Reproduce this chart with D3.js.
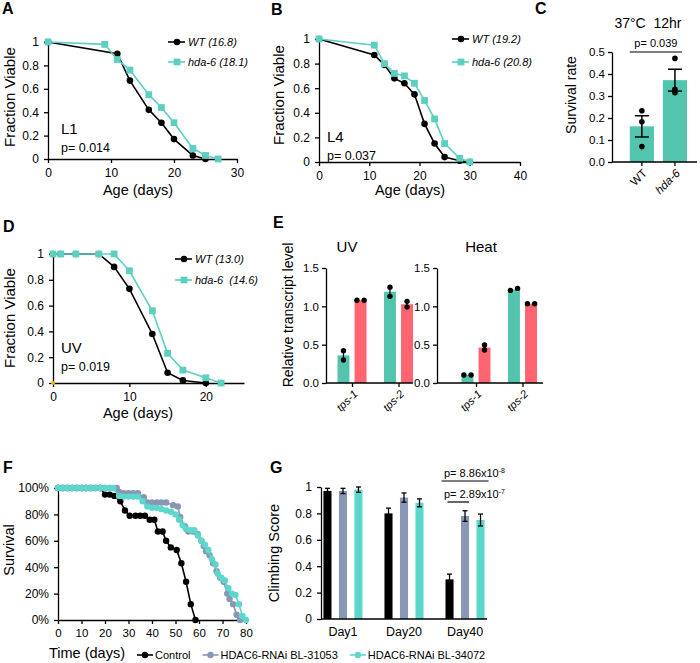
<!DOCTYPE html>
<html>
<head>
<meta charset="utf-8">
<script src="https://cdn.jsdelivr.net/npm/d3@7"></script>
<style>
  body { margin: 0; background: #fff; }
  svg { display: block; }
</style>
</head>
<body>
<svg id="fig" width="700" height="663"></svg>
<script>
const svg = d3.select("#fig");
const FONT = "'Liberation Sans', Arial, Helvetica, sans-serif";

const turq = "#5ccfc1", barTeal = "#53c5af", coral = "#fe6571", slate = "#8797b4", aqua = "#5dd7cb";

// ---- A: L1 lifespan
const aDaysWT = [0, 11, 13, 16, 18, 20, 23, 25];
const aWT = [1, 0.9, 0.67, 0.42, 0.31, 0.17, 0.03, 0];
const aDaysHda = [0, 9, 11, 13, 16, 18, 20, 23, 25, 27];
const aHda = [1, 0.98, 0.85, 0.76, 0.55, 0.44, 0.31, 0.09, 0.03, 0];

// ---- B: L4 lifespan
const bDaysWT = [0, 11, 13, 15, 17, 19, 21, 23, 25, 28, 30];
const bWT = [1, 0.87, 0.79, 0.68, 0.64, 0.55, 0.31, 0.15, 0.04, 0.01, 0];
const bDaysHda = [0, 11, 13, 15, 17, 19, 21, 23, 25, 28, 30];
const bHda = [1, 0.95, 0.8, 0.72, 0.7, 0.64, 0.5, 0.35, 0.15, 0.03, 0];

// ---- D: UV lifespan
const dDaysWT = [0, 1, 3, 6, 8, 10, 13, 15, 17, 20];
const dWT = [1, 1, 1, 1, 0.9, 0.73, 0.38, 0.08, 0.02, 0];
const dDaysHda = [0, 1, 3, 6, 8, 10, 13, 15, 17, 20, 22];
const dHda = [1, 1, 1, 1, 1, 0.87, 0.56, 0.23, 0.1, 0.04, 0];

const fracTicks = [0, 0.2, 0.4, 0.6, 0.8, 1];

// ---- C: 37°C survival
const cCats = ["WT", "hda-6"];
const cPoints = [[0.233, 0.183, 0.07], [0.471, 0.33, 0.315]];
const cTicks = [0, 0.1, 0.2, 0.3, 0.4, 0.5];

// ---- E: transcript levels (two replicates each)
const eGenes = ["tps-1", "tps-2"];
const eUVTeal = [[0.42, 0.30], [1.25, 1.13]];
const eUVRed = [[1.08, 1.08], [1.065, 0.99]];
const eHeatTeal = [[0.104, 0.104], [1.208, 1.234]];
const eHeatRed = [[0.495, 0.43], [1.034, 1.034]];
const eTicks = [0, 0.5, 1, 1.5];

// ---- F: fly survival (%)
const fCtrlDays = [0, 2, 4, 6, 8, 10, 12, 14, 16, 18, 20, 22, 24, 26.5, 28.5, 30.5, 33, 35, 37, 39, 41, 42.5, 44.5, 46, 48, 50.5, 52.5, 54.5, 56.5, 58.5];
const fCtrl = [100, 100, 100, 100, 100, 100, 100, 100, 100, 100, 95, 95, 94, 90, 83, 79, 79, 79, 79, 76, 76, 67, 67, 60, 55, 53, 43, 29, 12, 0];
const f31053Days = [0, 2, 4, 6, 8, 10, 12, 14, 16, 18, 20, 22, 24, 25, 26, 28, 30, 32, 34, 36.5, 38, 40, 42, 44, 46, 49, 51, 52, 54, 55.5, 57.5, 59.5, 61, 62, 63, 64.5, 66, 67.5, 69, 70.5, 72, 73, 74.5, 76, 77.5];
const f31053 = [100, 100, 100, 100, 100, 100, 100, 100, 100, 100, 100, 100, 100, 100, 97, 96, 96, 96, 96, 93, 89, 89, 89, 89, 89, 87, 86, 78, 71, 67, 67, 65, 60, 56, 52, 49, 43, 37, 32, 29, 20, 16, 12, 4, 0];
const f34072Days = [0, 2, 4, 6, 8, 10, 12, 14, 16, 18, 20, 22, 23.5, 26, 28, 30, 32, 34, 36, 38, 40, 42, 44, 46, 48, 50, 51.5, 53, 54.5, 56.5, 58, 59.5, 61, 62.5, 64, 65.5, 67, 68, 69.5, 71, 72.5, 74, 75.5, 77, 78.5, 80];
const f34072 = [100, 100, 100, 100, 100, 100, 100, 100, 100, 100, 100, 100, 100, 94, 93.5, 93.5, 93.5, 93.5, 90, 86, 85, 85, 84, 83, 82, 80, 76, 72, 69, 68, 68, 64, 60, 57, 53, 46, 42, 35, 32, 30, 24, 20, 19, 12, 3, 0];
const fXTicks = [0, 10, 20, 30, 40, 50, 60, 70, 80];
const fYTicks = [0, 20, 40, 60, 80, 100];
const fSeries = ["Control", "HDAC6-RNAi BL-31053", "HDAC6-RNAi BL-34072"];

// ---- G: climbing score
const gDays = ["Day1", "Day20", "Day40"];
const gMeans = [[0.97, 0.97, 0.98], [0.80, 0.92, 0.88], [0.30, 0.78, 0.75]];
const gErr = [[0.02, 0.02, 0.02], [0.04, 0.035, 0.03], [0.04, 0.04, 0.045]];

const seriesColor = ["#000", slate, aqua];

// ---------- helpers
const fmtFrac = d => (d === 0 || d === 1) ? String(d) : d.toFixed(1);

function styleAxis(g, size) {
  g.attr("font-family", FONT).attr("font-size", size);
  g.select(".domain").attr("stroke", "#000").attr("stroke-width", 1.3);
  g.selectAll(".tick line").attr("stroke", "#000").attr("stroke-width", 1.3);
  g.selectAll(".tick text").attr("fill", "#000");
  return g;
}

function txt(x, y, s, size, o = {}) {
  const t = svg.append("text").attr("x", x).attr("y", y)
    .attr("font-family", FONT).attr("font-size", size).style("white-space", "pre").text(s);
  if (o.anchor) t.attr("text-anchor", o.anchor);
  if (o.bold) t.attr("font-weight", "bold");
  if (o.italic) t.attr("font-style", "italic");
  return t;
}

function vtxt(x, y, s, size) {
  return svg.append("text").attr("transform", `translate(${x},${y}) rotate(-90)`)
    .attr("text-anchor", "middle").attr("font-family", FONT).attr("font-size", size).text(s);
}

function square(sel, cx, cy, s, col) {
  sel.append("rect").attr("x", cx - s / 2).attr("y", cy - s / 2)
    .attr("width", s).attr("height", s).attr("fill", col);
}

// ---------- survival line panels (A, B, D)
function survivalPanel(o) {
  const x = d3.scaleLinear().domain(o.xDomain).range(o.xRange);
  const y = d3.scaleLinear().domain([0, 1]).range(o.yRange);
  styleAxis(svg.append("g").attr("transform", `translate(0,${o.yRange[0]})`)
    .call(d3.axisBottom(x).tickValues(o.xTicks).tickSize(4).tickSizeOuter(0).tickPadding(5)), 12);
  styleAxis(svg.append("g").attr("transform", `translate(${o.xRange[0]},0)`)
    .call(d3.axisLeft(y).tickValues(fracTicks).tickSize(4).tickSizeOuter(0).tickPadding(5).tickFormat(fmtFrac)), 12);

  const line = d3.line().x(d => x(d[0])).y(d => y(d[1]));
  const wt = d3.zip(o.wtDays, o.wt), hd = d3.zip(o.hdaDays, o.hda);

  svg.append("path").datum(wt).attr("d", line).attr("fill", "none")
    .attr("stroke", "#000").attr("stroke-width", 1.6);
  svg.append("g").selectAll("circle").data(wt).join("circle")
    .attr("cx", d => x(d[0])).attr("cy", d => y(d[1])).attr("r", 3.3).attr("fill", "#000");

  svg.append("path").datum(hd).attr("d", line).attr("fill", "none")
    .attr("stroke", turq).attr("stroke-width", 1.6);
  svg.append("g").selectAll("rect").data(hd).join("rect")
    .attr("x", d => x(d[0]) - 3.4).attr("y", d => y(d[1]) - 3.4)
    .attr("width", 6.8).attr("height", 6.8).attr("fill", turq);

  if (o.origin) {
    svg.append("circle").attr("cx", x(0)).attr("cy", y(0)).attr("r", 2).attr("fill", "#f2b600");
  }

  // legend
  o.labels.forEach((lab, i) => {
    const ly = o.legend.y + i * o.legend.dy;
    const col = i === 0 ? "#000" : turq;
    svg.append("line").attr("x1", o.legend.x).attr("x2", o.legend.x + 17)
      .attr("y1", ly).attr("y2", ly).attr("stroke", col).attr("stroke-width", 1.6);
    if (i === 0) svg.append("circle").attr("cx", o.legend.x + 9).attr("cy", ly).attr("r", 3.3).attr("fill", col);
    else square(svg, o.legend.x + 9, ly, 6.8, col);
    txt(o.legend.x + 20, ly + 4, lab, 11, { italic: true });
  });

  txt(o.note.x, o.note.y, o.note.label, 15);
  txt(o.note.x, o.note.y + 18, o.note.p, 12.5);
  txt(o.xTitle[0], o.xTitle[1], "Age (days)", 14.5, { anchor: "middle" });
  vtxt(o.yTitle[0], o.yTitle[1], "Fraction Viable", 15);
}

survivalPanel({
  xDomain: [0, 30], xRange: [48, 237], yRange: [159, 42], xTicks: [0, 10, 20, 30],
  wtDays: aDaysWT, wt: aWT, hdaDays: aDaysHda, hda: aHda,
  labels: ["WT (16.8)", "hda-6 (18.1)"], legend: { x: 168, y: 42, dy: 20 },
  note: { x: 61, y: 134, label: "L1", p: "p= 0.014" },
  xTitle: [138, 195], yTitle: [15, 97]
});
survivalPanel({
  xDomain: [0, 40], xRange: [319, 520], yRange: [162, 39], xTicks: [0, 10, 20, 30, 40],
  wtDays: bDaysWT, wt: bWT, hdaDays: bDaysHda, hda: bHda,
  labels: ["WT (19.2)", "hda-6 (20.8)"], legend: { x: 452, y: 39, dy: 23 },
  note: { x: 327, y: 142, label: "L4", p: "p= 0.037" },
  xTitle: [410, 195], yTitle: [284, 95]
});
survivalPanel({
  xDomain: [0, 25], xRange: [53, 244], yRange: [383, 254], xTicks: [0, 10, 20],
  wtDays: dDaysWT, wt: dWT, hdaDays: dDaysHda, hda: dHda, origin: true,
  labels: ["WT (13.0)", "hda-6  (14.6)"], legend: { x: 175, y: 259, dy: 21 },
  note: { x: 61, y: 353, label: "UV", p: "p= 0.019" },
  xTitle: [138, 418], yTitle: [15, 318]
});

// ---------- C
(function () {
  const x = d3.scaleBand().domain(cCats).range([612, 697]).paddingInner(0.27).paddingOuter(0.42).align(0.64);
  const y = d3.scaleLinear().domain([0, 0.5]).range([162, 52]);
  const stats = cPoints.map(p => ({ m: d3.mean(p), se: d3.deviation(p) / Math.sqrt(p.length) }));

  svg.append("g").selectAll("rect").data(cCats).join("rect")
    .attr("x", d => x(d)).attr("width", x.bandwidth())
    .attr("y", (d, i) => y(stats[i].m)).attr("height", (d, i) => y(0) - y(stats[i].m))
    .attr("fill", barTeal);

  const gx = styleAxis(svg.append("g").attr("transform", `translate(0,${y(0)})`)
    .call(d3.axisBottom(x).tickSize(4).tickSizeOuter(0)), 11.5);
  gx.select(".domain").attr("d", "M612,0H697");
  gx.selectAll(".tick text").attr("y", 0).attr("dy", "0.35em")
    .attr("transform", "translate(3,9) rotate(-45)").attr("text-anchor", "end")
    .attr("font-style", d => d === "hda-6" ? "italic" : null);
  styleAxis(svg.append("g").attr("transform", "translate(612,0)")
    .call(d3.axisLeft(y).tickValues(cTicks).tickSize(4).tickSizeOuter(0).tickFormat(d3.format(".1f"))), 11.5);

  cCats.forEach((c, i) => {
    const cx = x(c) + x.bandwidth() / 2, s = stats[i];
    svg.append("line").attr("x1", cx).attr("x2", cx).attr("y1", y(s.m - s.se)).attr("y2", y(s.m + s.se))
      .attr("stroke", "#000").attr("stroke-width", 1.5);
    [s.m - s.se, s.m + s.se].forEach(v => svg.append("line").attr("x1", cx - 7).attr("x2", cx + 7)
      .attr("y1", y(v)).attr("y2", y(v)).attr("stroke", "#000").attr("stroke-width", 1.5));
    svg.append("g").selectAll("circle").data(cPoints[i]).join("circle")
      .attr("cx", cx).attr("cy", d => y(d)).attr("r", 2.8).attr("fill", "#000");
  });

  const bx1 = x("WT"), bx2 = x("hda-6") + x.bandwidth() - 5;
  svg.append("line").attr("x1", bx1).attr("x2", bx2).attr("y1", y(0.5)).attr("y2", y(0.5))
    .attr("stroke", "#000").attr("stroke-width", 1.2);
  txt((bx1 + bx2) / 2, y(0.5) - 5, "p= 0.039", 11, { anchor: "middle" });
  txt(648, 28, "37°C  12hr", 14, { anchor: "middle" });
  vtxt(576, 95, "Survival rate", 14);
})();

// ---------- E
function transcriptPanel(o) {
  const y = d3.scaleLinear().domain([0, 1.5]).range([383, 268]);
  const gx = d3.scalePoint().domain(eGenes).range(o.centers);
  const sub = d3.scaleBand().domain(["teal", "red"]).range([-14.5, 14.5]).paddingInner(0.3);
  const bw = sub.bandwidth();

  const bars = [];
  eGenes.forEach((g, i) => {
    bars.push({ g, k: "teal", vals: o.teal[i], col: barTeal });
    bars.push({ g, k: "red", vals: o.red[i], col: coral });
  });
  bars.forEach(b => { b.m = d3.mean(b.vals); b.x = gx(b.g) + sub(b.k); });

  svg.append("g").selectAll("rect").data(bars).join("rect")
    .attr("x", d => d.x).attr("width", bw)
    .attr("y", d => y(d.m)).attr("height", d => y(0) - y(d.m)).attr("fill", d => d.col);

  bars.forEach(b => {
    const cx = b.x + bw / 2;
    const apart = Math.abs(b.vals[0] - b.vals[1]) < 0.05;
    if (!apart) {
      svg.append("line").attr("x1", cx).attr("x2", cx)
        .attr("y1", y(d3.min(b.vals))).attr("y2", y(d3.max(b.vals)))
        .attr("stroke", "#000").attr("stroke-width", 1.2);
    }
    svg.append("g").selectAll("circle").data(b.vals).join("circle")
      .attr("cx", (d, j) => apart ? cx + (j === 0 ? -3.6 : 3.6) : cx)
      .attr("cy", d => y(d)).attr("r", 2.7).attr("fill", "#000");
  });

  const ax = styleAxis(svg.append("g").attr("transform", `translate(0,${y(0)})`)
    .call(d3.axisBottom(gx).tickSize(4).tickSizeOuter(0)), 11);
  ax.select(".domain").attr("d", `M${o.axisX},0H${o.xEnd}`);
  ax.selectAll(".tick text").attr("y", 0).attr("dy", "0.35em").attr("font-style", "italic")
    .attr("transform", "translate(3,9) rotate(-45)").attr("text-anchor", "end");
  styleAxis(svg.append("g").attr("transform", `translate(${o.axisX},0)`)
    .call(d3.axisLeft(y).tickValues(eTicks).tickSize(4).tickSizeOuter(0).tickFormat(d3.format(".1f"))), 11.5);
  txt(o.titleX, 252, o.title, 15, { anchor: "middle" });
}

transcriptPanel({ axisX: 326, xEnd: 413, centers: [352, 398.5], teal: eUVTeal, red: eUVRed, title: "UV", titleX: 347 });
transcriptPanel({ axisX: 437, xEnd: 543, centers: [476, 522.5], teal: eHeatTeal, red: eHeatRed, title: "Heat", titleX: 481 });
vtxt(293, 315, "Relative transcript level", 14);

// ---------- F
(function () {
  const x = d3.scaleLinear().domain([0, 80]).range([58, 246]);
  const y = d3.scaleLinear().domain([0, 100]).range([620, 488]);
  styleAxis(svg.append("g").attr("transform", `translate(0,${y(0)})`)
    .call(d3.axisBottom(x).tickValues(fXTicks).tickSize(4).tickSizeOuter(0).tickPadding(5)), 11.5);
  styleAxis(svg.append("g").attr("transform", `translate(${x(0)},0)`)
    .call(d3.axisLeft(y).tickValues(fYTicks).tickSize(4).tickSizeOuter(0).tickPadding(5).tickFormat(d => d + "%")), 12);

  const line = d3.line().x(d => x(d[0])).y(d => y(d[1]));
  const series = [d3.zip(fCtrlDays, fCtrl), d3.zip(f31053Days, f31053), d3.zip(f34072Days, f34072)];
  series.forEach((s, i) => {
    svg.append("path").datum(s).attr("d", line).attr("fill", "none")
      .attr("stroke", seriesColor[i]).attr("stroke-width", 1.6);
    svg.append("g").selectAll("circle").data(s).join("circle")
      .attr("cx", d => x(d[0])).attr("cy", d => y(d[1])).attr("r", 3.2).attr("fill", seriesColor[i]);
  });

  vtxt(14, 550, "Survival", 14.5);
  txt(49, 658, "Time (days)", 14.5);

  // legend
  let lx = 137;
  fSeries.forEach((s, i) => {
    svg.append("line").attr("x1", lx).attr("x2", lx + 16).attr("y1", 655).attr("y2", 655)
      .attr("stroke", seriesColor[i]).attr("stroke-width", 1.6);
    svg.append("circle").attr("cx", lx + 8).attr("cy", 655).attr("r", 3.2).attr("fill", seriesColor[i]);
    const t = txt(lx + 18, 659, s, 11);
    lx += 18 + t.node().getComputedTextLength() + 12;
  });
})();

// ---------- G
(function () {
  const x0 = d3.scaleBand().domain(gDays).range([321, 487]).paddingInner(0.36).paddingOuter(0.04);
  const x1 = d3.scaleBand().domain(fSeries).range([0, x0.bandwidth()]).paddingInner(0.48);
  const y = d3.scaleLinear().domain([0, 1]).range([619, 487]);

  const bars = [];
  gDays.forEach((d, i) => fSeries.forEach((s, j) => bars.push({ d, s, j, m: gMeans[i][j], e: gErr[i][j] })));

  svg.append("g").selectAll("rect").data(bars).join("rect")
    .attr("x", b => x0(b.d) + x1(b.s)).attr("width", x1.bandwidth())
    .attr("y", b => y(b.m)).attr("height", b => y(0) - y(b.m)).attr("fill", b => seriesColor[b.j]);

  const eb = svg.append("g").attr("stroke", "#000").attr("stroke-width", 1.3);
  bars.forEach(b => {
    const cx = x0(b.d) + x1(b.s) + x1.bandwidth() / 2;
    eb.append("line").attr("x1", cx).attr("x2", cx).attr("y1", y(b.m - b.e)).attr("y2", y(b.m + b.e));
    [b.m - b.e, b.m + b.e].forEach(v => eb.append("line").attr("x1", cx - 2.5).attr("x2", cx + 2.5)
      .attr("y1", y(v)).attr("y2", y(v)));
  });

  const ax = styleAxis(svg.append("g").attr("transform", `translate(0,${y(0)})`)
    .call(d3.axisBottom(x0).tickSize(0).tickSizeOuter(0).tickPadding(8)), 12.5);
  ax.select(".domain").attr("d", "M321,0H487");
  styleAxis(svg.append("g").attr("transform", "translate(321,0)")
    .call(d3.axisLeft(y).tickValues(fracTicks).tickSize(4).tickSizeOuter(0).tickPadding(5).tickFormat(fmtFrac)), 12);

  vtxt(279, 553, "Climbing Score", 14.5);

  // significance
  const xb = x0("Day40") + x1(fSeries[0]);
  const xg = x0("Day40") + x1(fSeries[1]) + x1.bandwidth();
  const xt = x0("Day40") + x1(fSeries[2]) + x1.bandwidth();
  const pv = [["p= 8.86x10", "-8", 477, xb - 4, xt + 4], ["p= 2.89x10", "-7", 498, xb + 2, xg]];
  pv.forEach(p => {
    const t = txt(444, p[2], p[0], 11);
    t.append("tspan").attr("dy", -4).attr("font-size", 7).text(p[1]);
    svg.append("line").attr("x1", p[3]).attr("x2", p[4]).attr("y1", p[2] + 4).attr("y2", p[2] + 4)
      .attr("stroke", "#000").attr("stroke-width", 1.2);
  });
})();

// ---------- panel letters
[["A", 2, 14], ["B", 271, 15], ["C", 535, 14], ["D", 3, 232], ["E", 273, 228], ["F", 3, 473], ["G", 270, 473]]
  .forEach(l => txt(l[1], l[2], l[0], 16, { bold: true }));
</script>
</body>
</html>
